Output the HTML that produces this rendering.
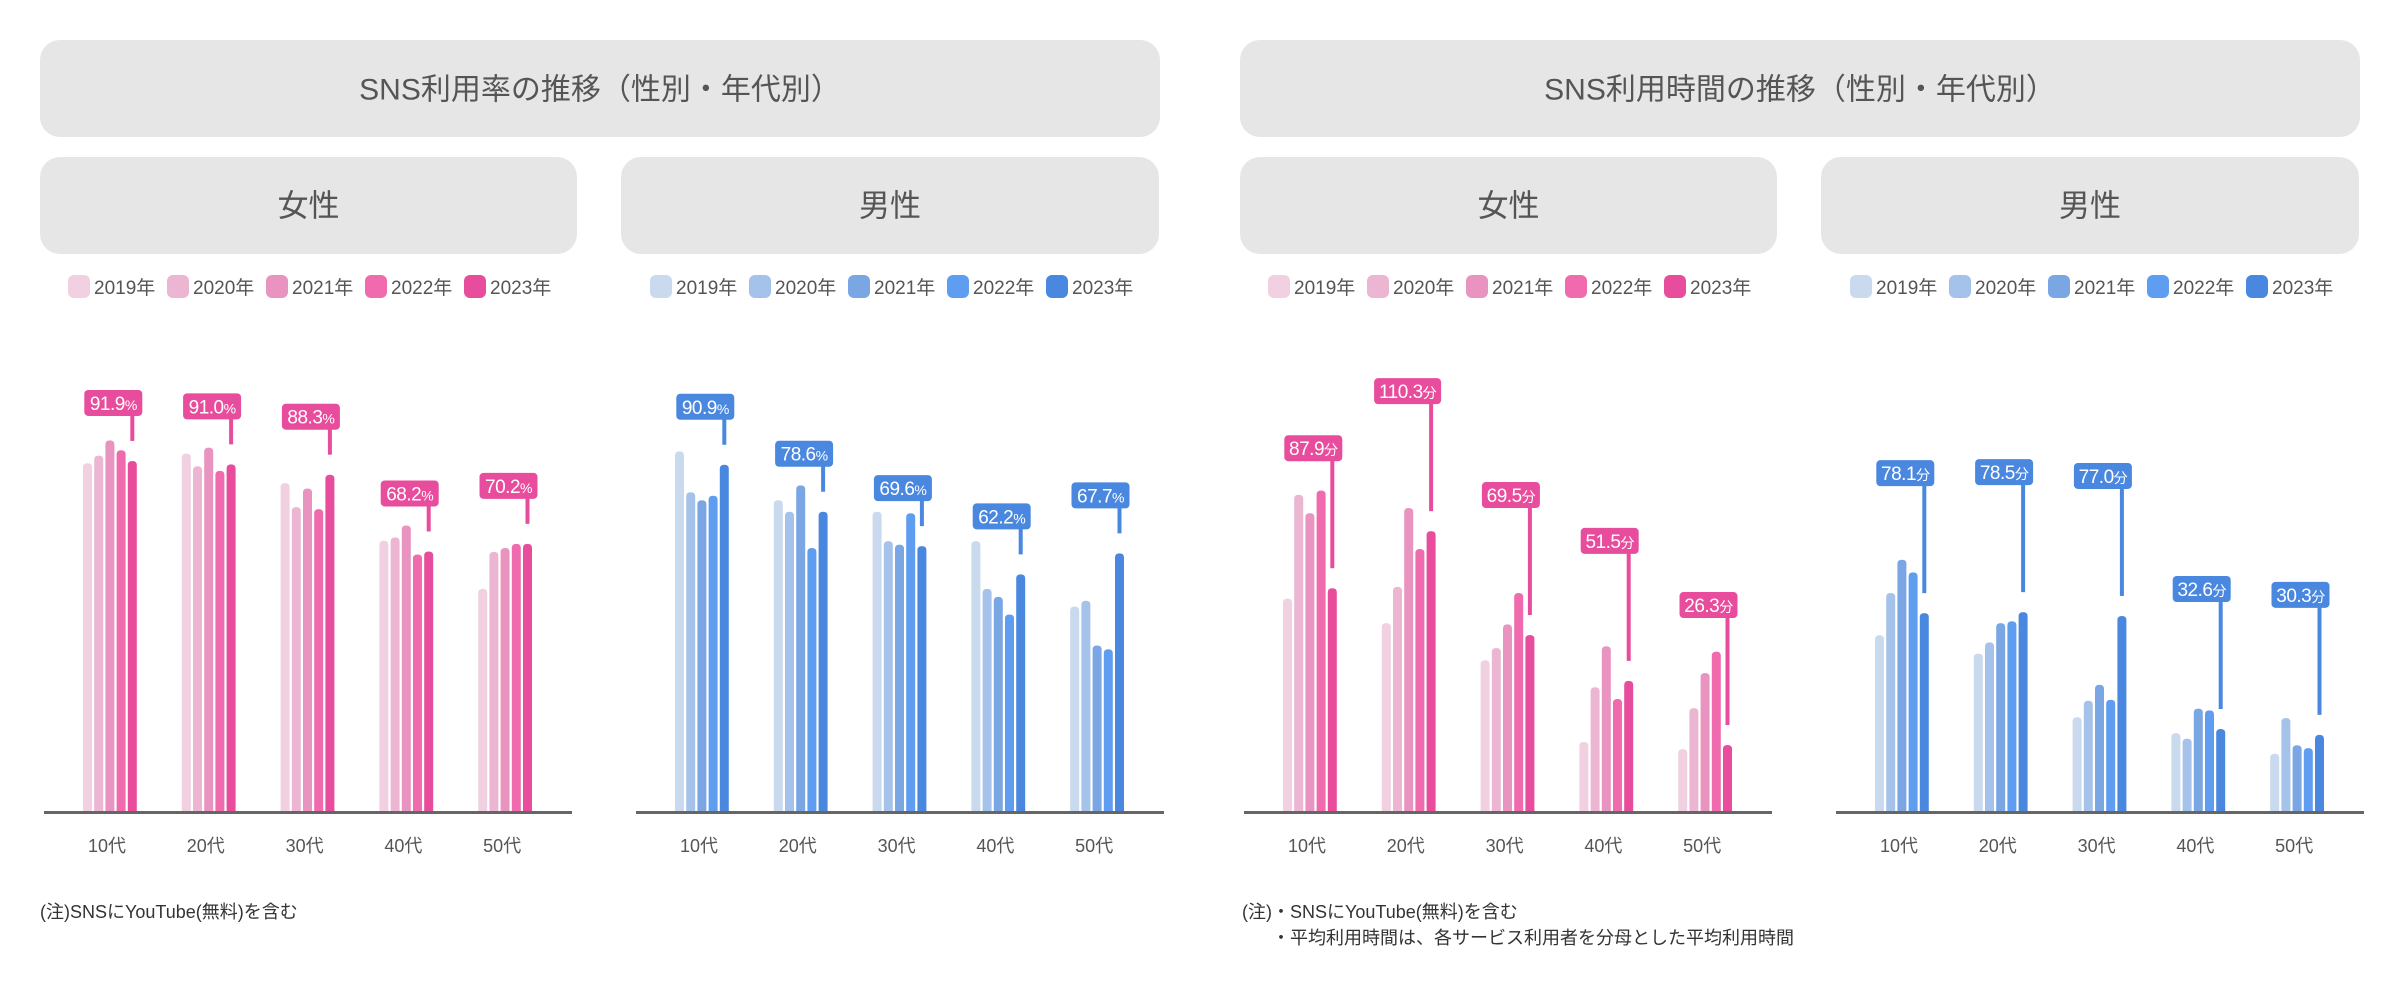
<!DOCTYPE html>
<html><head><meta charset="utf-8">
<style>
html,body{margin:0;padding:0;background:#fff;}
body{width:2400px;height:1000px;overflow:hidden;font-family:"Liberation Sans","Noto Sans CJK JP",sans-serif;}
svg text{font-family:"Liberation Sans","Noto Sans CJK JP",sans-serif;}
</style></head>
<body>
<svg id="page" width="2400" height="1000" viewBox="0 0 2400 1000" xmlns="http://www.w3.org/2000/svg">
</svg>
<script>
const categories = ["10代","20代","30代","40代","50代"];
const years = ["2019年","2020年","2021年","2022年","2023年"];
// usage rate (%) by year, each array = one year across age groups
const rateF2019 = [91.3, 93.8, 86.1, 71.0, 58.4];
const rateF2020 = [93.3, 90.5, 79.8, 71.9, 68.1];
const rateF2021 = [97.3, 95.4, 84.7, 75.0, 69.1];
const rateF2022 = [94.7, 89.3, 79.3, 67.4, 70.2];
const rateF2023 = [91.9, 91.0, 88.3, 68.2, 70.2];
const rateM2019 = [94.4, 81.6, 78.6, 70.9, 53.8];
const rateM2020 = [83.7, 78.6, 70.9, 58.4, 55.3];
const rateM2021 = [81.6, 85.5, 70.0, 56.3, 43.6];
const rateM2022 = [82.8, 69.1, 78.2, 51.7, 42.6];
const rateM2023 = [90.9, 78.6, 69.6, 62.2, 67.7];
// usage time (minutes)
const timeF2019 = [83.8, 74.2, 59.6, 27.5, 24.7];
const timeF2020 = [124.6, 88.4, 64.4, 49.0, 40.8];
const timeF2021 = [117.4, 119.4, 73.7, 65.1, 54.6];
const timeF2022 = [126.3, 103.3, 86.0, 44.4, 63.0];
const timeF2023 = [87.9, 110.3, 69.5, 51.5, 26.3];
const timeM2019 = [69.4, 62.2, 37.2, 31.0, 22.9];
const timeM2020 = [86.0, 66.6, 43.7, 28.8, 36.9];
const timeM2021 = [99.1, 74.2, 50.0, 40.6, 26.2];
const timeM2022 = [94.1, 74.9, 44.1, 39.9, 25.1];
const timeM2023 = [78.1, 78.5, 77.0, 32.6, 30.3];

const pink = ["#f0d0e1","#ecb6d3","#e993c0","#ef6bae","#e84c9c"];
const blue = ["#c9d9ee","#a5c2eb","#7aa7e4","#5f9df0","#4a88e0"];
const NS = "http://www.w3.org/2000/svg";
const svg = document.getElementById("page");
function mk(tag, attrs, parent){
  const e = document.createElementNS(NS, tag);
  for (const k in attrs) e.setAttribute(k, attrs[k]);
  (parent||svg).appendChild(e);
  return e;
}
function banner(x,y,w,h,label,name,fs){
  const g = mk("g",{});
  
  
  mk("rect",{x:x,y:y,width:w,height:h,rx:20,fill:"#e6e6e6"},g);
  const t = mk("text",{x:x+w/2,y:y+h/2+fs*0.36,"text-anchor":"middle","font-size":fs,fill:"#555"},g);
  t.textContent = label;
}
banner(40,40,1120,97,"SNS利用率の推移（性別・年代別）","rate-title-banner",30);
banner(1240,40,1120,97,"SNS利用時間の推移（性別・年代別）","time-title-banner",30);
banner(40,157,537,97,"女性","rate-female-header",31);
banner(621,157,538,97,"男性","rate-male-header",31);
banner(1240,157,537,97,"女性","time-female-header",31);
banner(1821,157,538,97,"男性","time-male-header",31);

function legend(x0, colors, name){
  const g = mk("g",{});
  
  
  years.forEach((y,i)=>{
    const gi = mk("g",{},g);
    
    
    const x = x0 + i*99;
    mk("rect",{x:x,y:275,width:22,height:23,rx:6,fill:colors[i]},gi);
    const t = mk("text",{x:x+26,y:294,"font-size":19,fill:"#555"},gi);
    t.textContent = y;
  });
}
legend(68, pink, "rate-female-legend");
legend(650, blue, "rate-male-legend");
legend(1268, pink, "time-female-legend");
legend(1850, blue, "time-male-legend");

const BASE = 812;
function chart(axisX, series, colors, pxPerUnit, boxOffset, unit, name){
  const g = mk("g",{});
  
  
  const yOf = v => BASE - v*pxPerUnit;
  const groupX = i => axisX + 39 + i*98.8;
  const barX = (i,j) => groupX(i) + j*11.2;
  categories.forEach((c,i)=>{
    series.forEach((arr,j)=>{
      const y = yOf(arr[i]);
      const b = mk("path",{d:`M${barX(i,j)},${BASE} V${y+4} Q${barX(i,j)},${y} ${barX(i,j)+4.5},${y} Q${barX(i,j)+9},${y} ${barX(i,j)+9},${y+4} V${BASE} Z`,fill:colors[j]},g);
      
      
    });
    const last = series[series.length-1][i];
    const top = yOf(last);
    const lx = barX(i,4)+4.5;
    const boxBottom = top - boxOffset;
    const ln = mk("rect",{x:lx-2,y:boxBottom-2,width:4,height:boxOffset-18,fill:colors[4]},g);
    
    
    const bw = last>=100 ? 67 : 58;
    const bx = lx + 10 - bw;
    const box = mk("rect",{x:bx,y:boxBottom-26,width:bw,height:26,rx:4,fill:colors[4]},g);
    
    
    const t = mk("text",{x:bx+bw/2,y:boxBottom-6,"text-anchor":"middle","font-size":19,fill:"#fff","letter-spacing":"-0.5"},g);
    
    
    t.textContent = last.toFixed(1);
    const ts = mk("tspan",{"font-size":14},t);
    ts.textContent = unit;
    const lab = mk("text",{x:groupX(i)+24,y:852,"text-anchor":"middle","font-size":18,fill:"#555"},g);
    
    
    lab.textContent = c;
  });
  const ax = mk("rect",{x:axisX,y:BASE-1,width:528,height:3,fill:"#666"},g);
  
  
}
chart(44, [rateF2019,rateF2020,rateF2021,rateF2022,rateF2023], pink, 3.82, 45, "%", "rate-female-chart");
chart(636, [rateM2019,rateM2020,rateM2021,rateM2022,rateM2023], blue, 3.82, 45, "%", "rate-male-chart");
chart(1244, [timeF2019,timeF2020,timeF2021,timeF2022,timeF2023], pink, 2.546, 127, "分", "time-female-chart");
chart(1836, [timeM2019,timeM2020,timeM2021,timeM2022,timeM2023], blue, 2.546, 127, "分", "time-male-chart");

function note(x,y,txt,name){
  const t = mk("text",{x:x,y:y,"font-size":18,fill:"#333"});
  
  
  t.textContent = txt;
}
note(40,918,"(注)SNSにYouTube(無料)を含む","rate-footnote");
note(1242,918,"(注)・SNSにYouTube(無料)を含む","time-footnote-1");
note(1272,944,"・平均利用時間は、各サービス利用者を分母とした平均利用時間","time-footnote-2");
</script>
</body></html>
